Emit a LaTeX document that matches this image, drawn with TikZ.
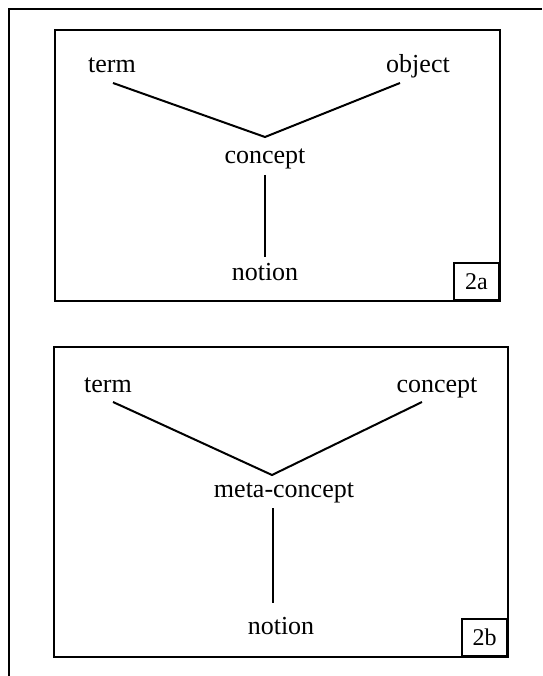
\documentclass[tikz,border=0pt]{standalone}
\usepackage{fontspec}
\setmainfont{Liberation Serif}
\begin{document}
\begin{tikzpicture}[x=1pt,y=-1pt,
  frame/.style={line width=2pt},
  link/.style={line width=2pt},
  lbl/.style={font=\fontsize{26}{30}\selectfont, inner sep=0pt, anchor=base},
  tag/.style={draw, line width=2pt, font=\fontsize{24}{28}\selectfont, minimum width=45pt, minimum height=37pt, inner sep=0pt, anchor=south east}]
\useasboundingbox (0,0) rectangle (542,676);
% outer frame (top and left only)
\coordinate (ftr) at (542,9);
\coordinate (fbl) at (9,676);
\draw[frame] (ftr) -- (9,9) -- (fbl);
% panel a
\draw[frame] (55,30) rectangle (500,301);
\node[tag] (tga) at (500,301) {2a};
\node[lbl] (terma) at (112,73) {term};
\node[lbl] (objecta) at (418,73) {object};
\node[lbl] (concepta) at (265,164) {concept};
\node[lbl] (notiona) at (265,280) {notion};
\coordinate (va) at (265,137);
\coordinate (ta) at (113,83);
\coordinate (oa) at (400,83);
\coordinate (ca) at (265,175);
\coordinate (na) at (265,257);
\draw[link] (ta) -- (va) -- (oa);
\draw[link] (ca) -- (na);
% panel b
\draw[frame] (54,347) rectangle (508,657);
\node[tag] (tgb) at (508,657) {2b};
\node[lbl] (termb) at (108,392) {term};
\node[lbl] (conceptb) at (437,392) {concept};
\node[lbl] (metab) at (284,497) {meta-concept};
\node[lbl] (notionb) at (281,634) {notion};
\coordinate (vb) at (272,475);
\coordinate (tb) at (113,402);
\coordinate (cb) at (422,402);
\coordinate (mb) at (273,508);
\coordinate (nb) at (273,603);
\draw[link] (tb) -- (vb) -- (cb);
\draw[link] (mb) -- (nb);
\end{tikzpicture}
\end{document}
